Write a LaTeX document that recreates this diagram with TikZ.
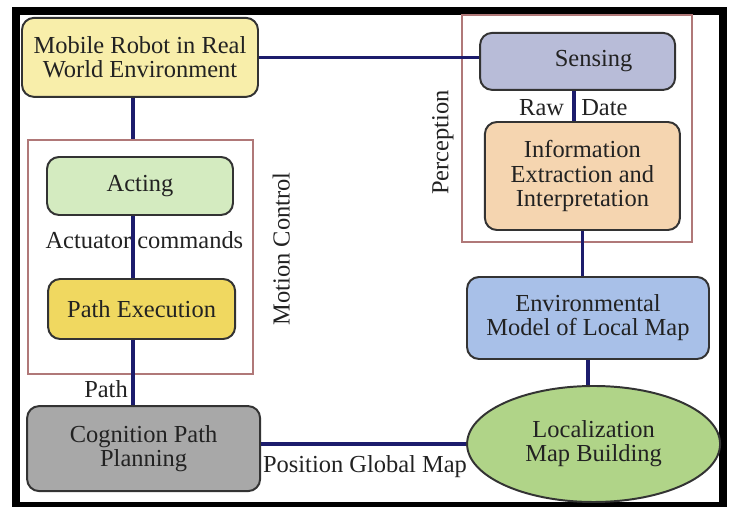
\documentclass[tikz,border=0pt]{standalone}
\usepackage{fontspec}
\setmainfont{Liberation Serif}
\usetikzlibrary{shapes.geometric}

\definecolor{navy}{HTML}{1C1C6C}
\definecolor{boxline}{HTML}{333333}
\definecolor{grpline}{HTML}{B07878}
\definecolor{txt}{HTML}{222222}
\definecolor{robotfill}{HTML}{F8EEAA}
\definecolor{actfill}{HTML}{D4EBC0}
\definecolor{execfill}{HTML}{F0D860}
\definecolor{cogfill}{HTML}{A8A8A8}
\definecolor{sensefill}{HTML}{B8BCD8}
\definecolor{infofill}{HTML}{F5D5B0}
\definecolor{envfill}{HTML}{A8C0E8}
\definecolor{locfill}{HTML}{B0D488}

\begin{document}
\begin{tikzpicture}[
    box/.style={draw=boxline, line width=1.4pt, rounded corners=0.3cm, align=center,
        inner sep=0pt, text=txt, font=\fontsize{17.4pt}{17.1pt}\selectfont},
    group/.style={draw=grpline, line width=0.9pt, inner sep=0pt},
    link/.style={draw=navy, line width=2.6pt},
    lbl/.style={text=txt, inner sep=0pt, font=\fontsize{17.4pt}{17.1pt}\selectfont}]
    \useasboundingbox (0, 0) rectangle (18.35, 12.675);
    \draw[line width=5.7pt] (0.41, 0.03) rectangle (18.08, 12.41);
    % groups
    \node[group, minimum width=5.625cm, minimum height=5.85cm] (motion) at (3.5125, 6.25) {};
    \node[group, minimum width=5.75cm, minimum height=5.675cm] (perc) at (14.425, 9.4625) {};
    % blocks
    \node[box, fill=robotfill, minimum width=5.9cm, minimum height=1.975cm] (robot) at (3.5, 11.24) {Mobile Robot in Real\\World Environment};
    \node[box, fill=actfill, minimum width=4.65cm, minimum height=1.45cm] (acting) at (3.5, 8.025) {Acting};
    \node[box, fill=execfill, minimum width=4.675cm, minimum height=1.5cm] (exec) at (3.54, 4.95) {Path Execution};
    \node[box, fill=cogfill, minimum width=5.825cm, minimum height=2.125cm] (cog) at (3.59, 1.46) {Cognition Path\\Planning};
    \node[box, fill=sensefill, minimum width=4.875cm, minimum height=1.425cm] (sense) at (14.44, 11.14) {\hspace*{0.8cm}Sensing};
    \node[box, fill=infofill, minimum width=4.875cm, minimum height=2.7cm] (info) at (14.56, 8.275) {Information\\Extraction and\\Interpretation};
    \node[box, fill=envfill, minimum width=6.05cm, minimum height=2.05cm] (env) at (14.7, 4.725) {Environmental\\Model of Local Map};
    \node[box, ellipse, fill=locfill, minimum width=6.325cm, minimum height=2.9cm] (loc) at (14.84, 1.575) {Localization\\Map Building};
    % labels
    \node[lbl] (actlbl) at (3.61, 6.675) {Actuator commands};
    \node[lbl] (pathlbl) at (2.65, 2.955) {Path};
    \node[lbl, rotate=90] (motionlbl) at (7.03, 6.45) {Motion Control};
    \node[lbl, rotate=90] (perclbl) at (11.075, 9.11) {Perception};
    \node[lbl] (rawlbl) at (13.54, 9.975) {Raw};
    \node[lbl] (datelbl) at (15.11, 9.975) {Date};
    \node[lbl] (poslbl) at (9.125, 1.01) {Position Global Map};
    % links
    \coordinate (spine) at (3.325, 0);
    \coordinate (rawx) at (14.35, 0);
    \draw[link] (robot.east) -- (robot.east -| sense.west);
    \draw[link] (robot.south -| spine) -- (motion.north -| spine);
    \draw[link] (acting.south -| spine) -- (exec.north -| spine);
    \draw[link] (exec.south -| spine) -- (cog.north -| spine);
    \draw[link] (sense.south -| rawx) -- (info.north -| rawx);
    \draw[link] (info.south) -- (info.south |- env.north);
    \draw[link] (env.south) -- (env.south |- loc.north);
    \draw[link] (loc.west -| cog.east) -- (loc.west);
\end{tikzpicture}
\end{document}
